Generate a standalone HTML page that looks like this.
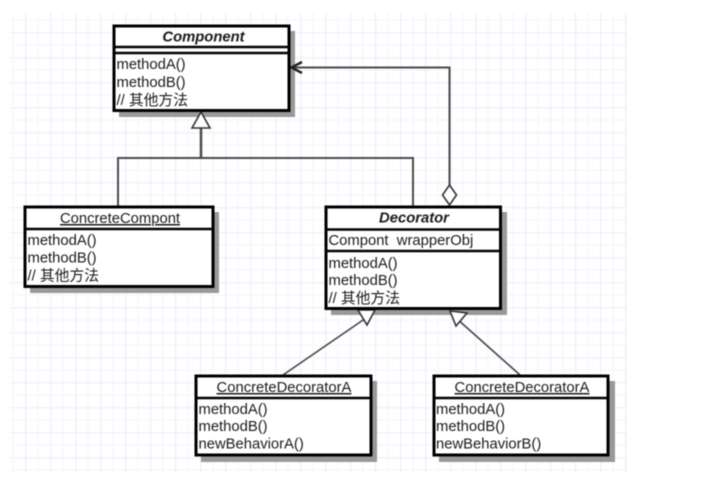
<!DOCTYPE html>
<html><head><meta charset="utf-8">
<style>
html,body{margin:0;padding:0;background:#fff;width:721px;height:498px;overflow:hidden}
svg{display:block;filter:blur(.45px)}
text{font-family:"Liberation Sans","Noto Sans CJK SC",sans-serif;font-size:14.8px;fill:#1a1a1a;white-space:pre}
.t{text-anchor:middle}
.b{fill:#fff;stroke:#000;stroke-width:3}
.s{fill:#999}
.l{stroke:#000;stroke-width:2.5;fill:none}
.c{stroke:#4a4a4a;stroke-width:2;fill:none}
.d{stroke:#444;stroke-width:1.6;fill:none}
.h{fill:#fff;stroke:#333;stroke-width:1.6}
</style></head><body>
<svg width="721" height="498" viewBox="0 0 721 498" xmlns="http://www.w3.org/2000/svg">
<defs>
<pattern id="g" x="0" y="7" width="25" height="25" patternUnits="userSpaceOnUse">
<rect width="25" height="25" fill="#fff"/>
<path d="M0 13H25M13 0V25" stroke="#f8f7fe" stroke-width="1.6"/>
<path d="M0 0.500H25M0.500 0V25" stroke="#efeefd" stroke-width="1.6"/>
</pattern>
</defs>
<rect x="10" y="13" width="617" height="459" fill="url(#g)"/>

<rect class="s" x="119" y="31" width="176" height="86"/>
<rect class="s" x="30" y="212" width="189" height="81"/>
<rect class="s" x="331" y="212" width="176" height="103"/>
<rect class="s" x="201" y="381" width="176" height="81"/>
<rect class="s" x="439" y="381" width="176" height="81"/>

<path class="c" d="M118 206V158H413V206"/>
<path class="c" d="M201 158V128" style="stroke-width:2.500"/>
<polygon class="h" points="201,112 210,128 192,128"/>
<path class="c" d="M449.500 186V67.500H291"/>
<path class="c" d="M302 62L291.500 67.500L302 73" style="stroke-width:2.500;stroke:#222"/>
<polygon class="h" points="449.500,185 456.500,195 449.500,205 442.500,195"/>
<path class="d" d="M283 375L366 318"/>
<polygon class="h" points="375,310 367,325 358,310"/>
<path class="d" d="M520 375L456 318"/>
<polygon class="h" points="450,311 467,313 456,326"/>

<rect class="b" x="114" y="26" width="175" height="84.500"/>
<path class="l" d="M114 47H289M114 53H289"/>
<text class="t" x="203.500" y="41.500" font-style="italic" font-weight="bold">Component</text>
<text x="116.500" y="69">methodA()</text>
<text x="116.500" y="87">methodB()</text>
<text x="116.500" y="105">// 其他方法</text>

<rect class="b" x="25" y="207" width="188" height="79.500"/>
<path class="l" d="M25 229H213"/>
<text class="t" x="120" y="223" text-decoration="underline">ConcreteCompont</text>
<text x="27.500" y="245">methodA()</text>
<text x="27.500" y="262.500">methodB()</text>
<text x="27.500" y="280.500">// 其他方法</text>

<rect class="b" x="326" y="207" width="174.500" height="101.500"/>
<path class="l" d="M326 229.500H500M326 251H500"/>
<text class="t" x="414" y="222.500" font-style="italic" font-weight="bold">Decorator</text>
<text x="328.500" y="245">Compont  wrapperObj</text>
<text x="328.500" y="268">methodA()</text>
<text x="328.500" y="285">methodB()</text>
<text x="328.500" y="303">// 其他方法</text>

<rect class="b" x="196" y="376" width="175" height="79"/>
<path class="l" d="M196 398H371"/>
<text class="t" x="284" y="392" text-decoration="underline">ConcreteDecoratorA</text>
<text x="198.500" y="414">methodA()</text>
<text x="198.500" y="431">methodB()</text>
<text x="198.500" y="448.500">newBehaviorA()</text>

<rect class="b" x="434" y="376" width="174" height="79"/>
<path class="l" d="M434 398H608"/>
<text class="t" x="522" y="392" text-decoration="underline">ConcreteDecoratorA</text>
<text x="436" y="414">methodA()</text>
<text x="436" y="431">methodB()</text>
<text x="436" y="448.500">newBehaviorB()</text>
</svg>
</body></html>
